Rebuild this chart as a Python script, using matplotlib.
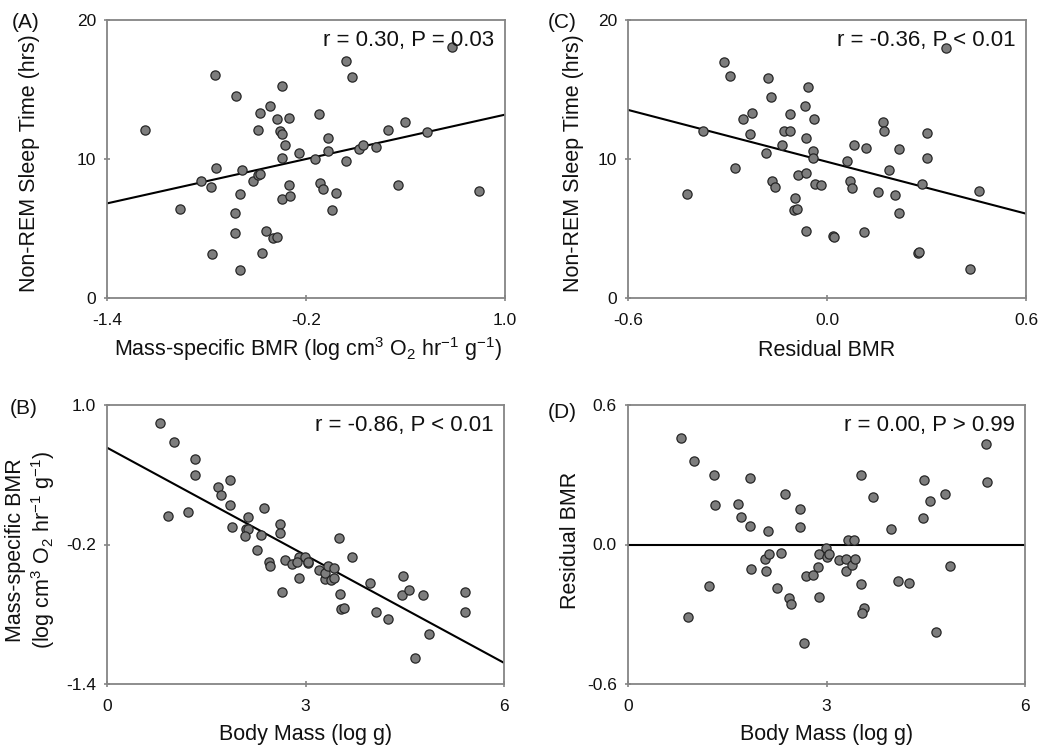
import matplotlib
matplotlib.use("Agg")
import matplotlib.pyplot as plt
import numpy as np

plt.rcParams['font.family'] = ['Liberation Sans', 'DejaVu Sans']
plt.rcParams['mathtext.fontset'] = 'custom'
plt.rcParams['mathtext.rm'] = 'Liberation Sans'
plt.rcParams['mathtext.it'] = 'Liberation Sans:italic'
plt.rcParams['mathtext.bf'] = 'Liberation Sans:bold'

# ---------------- data ----------------
# (A) Non-REM sleep vs mass-specific BMR
a_bmr = [-1.168, -0.748, -0.623, -0.415, -0.480, -0.347, -0.377, -0.301, -0.492, -0.357,
         -0.345, -0.325, -0.345, -0.242, -0.146, -0.120, -0.065, -0.065, 0.044, 0.080,
         0.042, 0.118, 0.146, 0.223, 0.293, 0.394, 0.531, 0.354, -0.742, -0.836,
         -0.774, -0.583, -0.522, -0.492, -0.476, -0.599, -0.305, -0.347, -0.299, -0.116,
         -0.095, -0.021, -0.043, -0.959, -0.627, -0.629, -0.444, -0.399, -0.373, -0.764,
         -0.468, -0.599, 0.683, 0.846]
a_sleep = [12.07, 16.03, 14.50, 13.82, 13.33, 15.23, 12.90, 12.92, 12.07, 12.04,
           11.78, 11.00, 10.10, 10.41, 10.02, 13.26, 11.51, 10.58, 17.03, 15.91,
           9.83, 10.71, 11.00, 10.83, 12.07, 12.65, 11.95, 8.15, 9.37, 8.44,
           7.98, 9.20, 8.39, 8.83, 8.95, 7.49, 8.10, 7.15, 7.37, 8.25,
           7.86, 7.57, 6.30, 6.37, 6.08, 4.70, 4.79, 4.33, 4.36, 3.16,
           3.26, 2.04, 18.08, 7.69]
a_fit = (10.53, 2.66)          # intercept, slope

# (C) Non-REM sleep vs residual BMR
c_resid = [-0.422, -0.375, -0.311, -0.293, -0.276, -0.253, -0.225, -0.233, -0.178, -0.170,
           -0.183, -0.167, -0.156, -0.135, -0.131, -0.113, -0.111, -0.066, -0.056, -0.039,
           -0.062, -0.042, -0.043, -0.088, -0.063, -0.096, -0.101, -0.090, -0.036, -0.017,
           -0.063, 0.019, 0.022, 0.059, 0.080, 0.117, 0.068, 0.074, 0.112, 0.153,
           0.170, 0.173, 0.188, 0.218, 0.204, 0.218, 0.273, 0.278, 0.285, 0.301,
           0.301, 0.358, 0.430, 0.458]
c_sleep = [7.49, 12.05, 16.96, 15.98, 9.35, 12.87, 13.30, 11.78, 15.86, 14.46,
           10.41, 8.43, 8.00, 10.99, 12.02, 12.05, 13.23, 13.78, 15.18, 12.89,
           11.49, 10.58, 10.05, 8.82, 8.96, 7.18, 6.34, 6.39, 8.22, 8.12,
           4.82, 4.43, 4.39, 9.83, 10.99, 10.82, 8.43, 7.90, 4.72, 7.59,
           12.63, 12.05, 9.18, 10.70, 7.40, 6.12, 3.23, 3.33, 8.17, 11.90,
           10.05, 18.0, 2.10, 7.71]
c_fit = (9.80, -6.22)

# (B) mass-specific BMR vs body mass
b_mass = [0.805, 1.012, 1.324, 1.334, 0.921, 1.228, 1.676, 1.726, 1.852, 1.852,
          1.882, 2.124, 2.094, 2.134, 2.089, 2.320, 2.370, 2.260, 2.441, 2.466,
          2.612, 2.612, 2.687, 2.652, 2.798, 2.899, 2.899, 2.989, 3.035, 2.869,
          3.201, 3.296, 3.301, 3.342, 3.387, 3.427, 3.513, 3.523, 3.538, 3.578,
          3.699, 3.981, 4.066, 4.248, 4.469, 4.459, 4.565, 4.655, 4.781, 4.872,
          5.410, 5.415, 3.045, 3.424]
b_bmr = [0.847, 0.685, 0.532, 0.396, 0.043, 0.078, 0.292, 0.222, 0.352, 0.144,
         -0.047, 0.037, -0.064, -0.067, -0.125, -0.116, 0.118, -0.249, -0.353, -0.382,
         -0.024, -0.099, -0.336, -0.608, -0.365, -0.307, -0.486, -0.304, -0.356, -0.353,
         -0.423, -0.498, -0.446, -0.382, -0.507, -0.400, -0.148, -0.625, -0.752, -0.749,
         -0.304, -0.530, -0.781, -0.845, -0.472, -0.634, -0.590, -1.180, -0.631, -0.966,
         -0.605, -0.778, -0.349, -0.485]
b_fit = (0.633, -0.3085)

# (D) residual BMR vs body mass
d_mass = [0.794, 0.991, 1.300, 1.310, 0.905, 1.219, 1.664, 1.710, 1.841, 1.841,
          1.866, 2.119, 2.069, 2.135, 2.089, 2.312, 2.256, 2.372, 2.428, 2.458,
          2.605, 2.600, 2.656, 2.686, 2.797, 2.873, 2.883, 2.893, 2.994, 3.004,
          3.045, 3.187, 3.288, 3.288, 3.328, 3.419, 3.379, 3.424, 3.515, 3.520,
          3.571, 3.541, 3.698, 3.976, 4.077, 4.244, 4.456, 4.476, 4.568, 4.654,
          4.795, 4.871, 5.412, 5.427]
d_resid = [0.459, 0.358, 0.300, 0.170, -0.312, -0.177, 0.175, 0.118, 0.286, 0.081,
           -0.104, 0.059, -0.062, -0.043, -0.113, -0.036, -0.185, 0.216, -0.232, -0.254,
           0.153, 0.074, -0.423, -0.134, -0.131, -0.097, -0.225, -0.040, -0.016, -0.052,
           -0.043, -0.066, -0.062, -0.115, 0.020, 0.020, -0.089, -0.062, 0.300, -0.170,
           -0.275, -0.293, 0.206, 0.068, -0.157, -0.166, 0.114, 0.277, 0.189, -0.375,
           0.216, -0.091, 0.433, 0.270]
d_fit = (0.0, 0.0)

a_xticks = [-1.4, -0.2, 1.0]; sleep_ticks = [0, 10, 20]
c_xticks = [-0.6, 0.0, 0.6]
mass_ticks = [0, 3, 6]
b_yticks = [-1.4, -0.2, 1.0]
d_yticks = [-0.6, 0.0, 0.6]

stats = {'A': 'r = 0.30, P = 0.03', 'B': 'r = -0.86, P < 0.01',
         'C': 'r = -0.36, P < 0.01', 'D': 'r = 0.00, P > 0.99'}

# ---------------- figure ----------------
W, H = 1039, 747
fig = plt.figure(figsize=(W / 100, H / 100), dpi=100)
fig.patch.set_facecolor('white')

def add_ax(l, t, r, b):
    return fig.add_axes([l / W, 1 - b / H, (r - l) / W, (b - t) / H])

axA = add_ax(107, 20, 505, 298)
axC = add_ax(628, 20, 1026, 298)
axB = add_ax(107, 405, 504, 684)
axD = add_ax(628, 405, 1025, 684)

spine_col = '#858585'

def style(ax, xt, yt, xfmt, yfmt, x, y, fit, label):
    ax.set_xlim(xt[0], xt[-1])
    ax.set_ylim(yt[0], yt[-1])
    xs = np.array([xt[0], xt[-1]])
    ax.plot(xs, fit[0] + fit[1] * xs, color='black', lw=1.5, zorder=2,
            solid_capstyle='butt')
    ax.scatter(x, y, s=44, facecolor='#7d7d7d', edgecolor='#262626',
               linewidth=0.9, zorder=3)
    ax.set_xticks(xt)
    ax.set_yticks(yt)
    ax.set_xticklabels([xfmt.format(v) for v in xt])
    ax.set_yticklabels([yfmt.format(v) for v in yt])
    for s in ax.spines.values():
        s.set_color(spine_col)
        s.set_linewidth(1.3)
    ax.tick_params(direction='inout', length=5, width=1.2, color=spine_col,
                   labelsize=12.5, labelcolor='#111111')
    ax.tick_params(axis='x', pad=8)
    ax.tick_params(axis='y', pad=5.5)
    ax.annotate(stats[label], xy=(1, 1), xycoords='axes fraction',
                xytext=(-7.5, -7.5), textcoords='offset points',
                ha='right', va='top', fontsize=16, color='#111111')

style(axA, a_xticks, sleep_ticks, '{:.1f}', '{:.0f}', a_bmr, a_sleep, a_fit, 'A')
style(axC, c_xticks, sleep_ticks, '{:.1f}', '{:.0f}', c_resid, c_sleep, c_fit, 'C')
style(axB, mass_ticks, b_yticks, '{:.0f}', '{:.1f}', b_mass, b_bmr, b_fit, 'B')
style(axD, mass_ticks, d_yticks, '{:.0f}', '{:.1f}', d_mass, d_resid, d_fit, 'D')

def ftext(px, py, s, **kw):
    fig.text(px / W, 1 - py / H, s, color='#111111', **kw)

lab = 15.5
# panel letters
ftext(12, 13, '(A)', fontsize=15, ha='left', va='top')
ftext(548, 13, '(C)', fontsize=15, ha='left', va='top')
ftext(10, 399, '(B)', fontsize=15, ha='left', va='top')
ftext(548, 403, '(D)', fontsize=15, ha='left', va='top')

# y labels
ftext(30, 163, 'Non-REM Sleep Time (hrs)', fontsize=lab, rotation=90, ha='center', va='center')
ftext(573, 163, 'Non-REM Sleep Time (hrs)', fontsize=lab, rotation=90, ha='center', va='center')
ftext(31, 550, 'Mass-specific BMR\n(log cm$^{3}$ O$_{2}$ hr$^{-1}$ g$^{-1}$)', fontsize=lab,
      rotation=90, ha='center', va='center', multialignment='center', linespacing=1.15)
ftext(570, 540, 'Residual BMR', fontsize=lab, rotation=90, ha='center', va='center')

# x labels
ftext(308, 356, 'Mass-specific BMR (log cm$^{3}$ O$_{2}$ hr$^{-1}$ g$^{-1}$)', fontsize=lab,
      ha='center', va='baseline')
ftext(827, 356, 'Residual BMR', fontsize=lab, ha='center', va='baseline')
ftext(306, 740, 'Body Mass (log g)', fontsize=lab, ha='center', va='baseline')
ftext(827, 740, 'Body Mass (log g)', fontsize=lab, ha='center', va='baseline')

fig.savefig('out.png', dpi=100, facecolor='white')
